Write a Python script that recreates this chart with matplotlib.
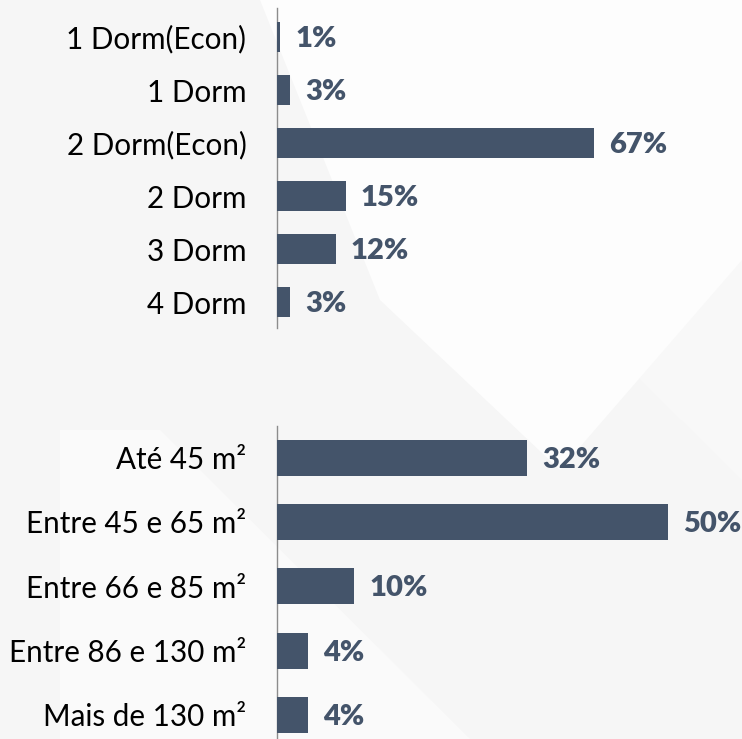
import matplotlib
matplotlib.use("Agg")
import matplotlib.pyplot as plt
from matplotlib.patches import Polygon

# ---- data ----
dorm_categories = ["1 Dorm(Econ)", "1 Dorm", "2 Dorm(Econ)", "2 Dorm", "3 Dorm", "4 Dorm"]
dorm_values = [0.6, 2.7, 67, 14.5, 12.4, 2.7]
dorm_labels = ["1%", "3%", "67%", "15%", "12%", "3%"]

area_categories = ["Até 45 m²", "Entre 45 e 65 m²", "Entre 66 e 85 m²", "Entre 86 e 130 m²", "Mais de 130 m²"]
area_values = [32, 50, 9.9, 4, 4]
area_labels = ["32%", "50%", "10%", "4%", "4%"]

BAR = "#44546A"
FONT = ["Lato", "DejaVu Sans"]
plt.rcParams["font.family"] = FONT

W, H = 742, 739
fig = plt.figure(figsize=(W / 100, H / 100), dpi=100)
fig.patch.set_facecolor("#f8f8f8")

# subtle background shapes
bg = fig.add_axes([0, 0, 1, 1], zorder=-10)
bg.set_xlim(0, W); bg.set_ylim(H, 0); bg.axis("off")
bg.add_patch(Polygon([[0, 0], [260, 0], [620, 360], [742, 480], [742, 739], [0, 739]],
                     closed=True, facecolor="#f6f6f6", edgecolor="none"))
bg.add_patch(Polygon([[60, 430], [160, 430], [470, 739], [60, 739]],
                     closed=True, facecolor="#fafafa", edgecolor="none"))
bg.add_patch(Polygon([[260, 0], [742, 0], [742, 260], [560, 470], [380, 300]],
                     closed=True, facecolor="#fdfdfd", edgecolor="none"))


def make_panel(rect, cats, vals, labels, ylim, xmax, height):
    ax = fig.add_axes(rect)
    ax.set_facecolor("none")
    y = list(range(len(cats)))
    ax.barh(y, vals, height=height, color=BAR, zorder=3)
    ax.set_ylim(*ylim)
    ax.set_xlim(0, xmax)
    ax.set_yticks(y)
    ax.set_yticklabels(cats, fontsize=21.3, color="black")
    ax.tick_params(axis="y", length=0, pad=22)
    ax.set_xticks([])
    for s in ["top", "right", "bottom"]:
        ax.spines[s].set_visible(False)
    ax.spines["left"].set_color("#8c8c8c")
    ax.spines["left"].set_linewidth(1.0)
    for yi, v, lab in zip(y, vals, labels):
        ax.annotate(lab, xy=(v, yi), xytext=(11, -1.5), textcoords="offset points",
                    ha="left", va="center", fontsize=21, fontweight="heavy",
                    color=BAR, clip_on=False, annotation_clip=False)
    return ax


x0 = 277 / W
make_panel([x0, 1 - 328 / H, (W - 277) / W, 320 / H],
           dorm_categories, dorm_values, dorm_labels,
           (5.49, -0.547), 465 / 4.73, 0.566)
make_panel([x0, 0, (W - 277) / W, 313 / H],
           area_categories, area_values, area_labels,
           (4.373, -0.49), 465 / 7.81, 0.56)

fig.savefig("out.png", dpi=100, facecolor=fig.get_facecolor())
